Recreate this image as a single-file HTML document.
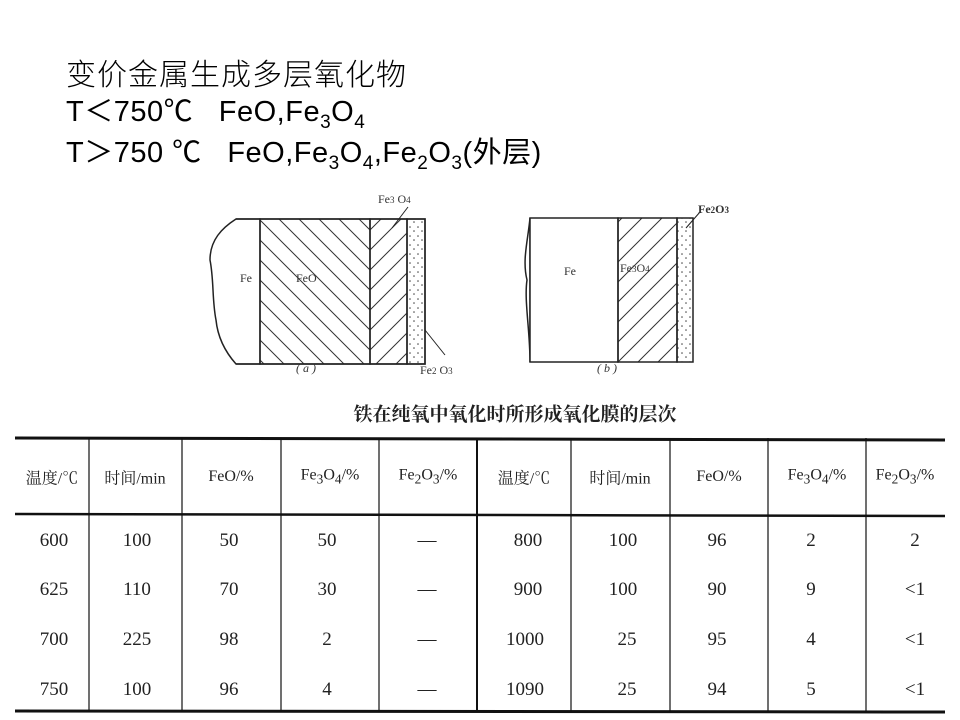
<!DOCTYPE html>
<html><head><meta charset="utf-8"><style>
body{margin:0;width:960px;height:720px;background:#fff;position:relative;overflow:hidden;font-family:"Liberation Sans","Noto Sans CJK SC",sans-serif}
.t{position:absolute;left:66px;font-size:29px;color:#000;white-space:nowrap;letter-spacing:0.5px}
.t sub{font-size:19px}
.c{position:absolute;font-family:"Liberation Serif","Noto Serif CJK SC",serif;font-size:19px;transform:translate(-50%,-50%);white-space:nowrap;color:#222}
</style></head><body>
<div class="t" style="top:50px;font-family:'Noto Sans CJK SC',sans-serif;font-size:30px;font-weight:300;letter-spacing:1px">变价金属生成多层氧化物</div>
<div class="t" style="top:88px">T＜750℃&nbsp;&nbsp; FeO,Fe<sub>3</sub>O<sub>4</sub></div>
<div class="t" style="top:129px">T＞750 ℃&nbsp;&nbsp; FeO,Fe<sub>3</sub>O<sub>4</sub>,Fe<sub>2</sub>O<sub>3</sub>(外层)</div>
<svg width="960" height="720" style="position:absolute;left:0;top:0" xmlns="http://www.w3.org/2000/svg">
<defs>
<pattern id="d1" width="20" height="20" patternUnits="userSpaceOnUse"><path d="M-5,-5 L25,25 M-5,15 L5,25 M15,-5 L25,5" stroke="#333" stroke-width="1"/></pattern>
<pattern id="d2" width="20" height="20" patternUnits="userSpaceOnUse"><path d="M-5,25 L25,-5 M-5,5 L5,-5 M15,25 L25,15" stroke="#333" stroke-width="1"/></pattern>
<pattern id="dots" width="8" height="9" patternUnits="userSpaceOnUse"><circle cx="2" cy="2" r="0.8" fill="#444"/><circle cx="6" cy="6" r="0.8" fill="#444"/></pattern>
</defs>
<g stroke="#222" stroke-width="1.5" fill="none">
<path d="M236,219 L260,219 L260,364 L236,364 C228,355 218,340 216,320 C212,300 214,280 210,260 C210,240 222,228 236,219Z"/>
<rect x="260" y="219" width="110" height="145" fill="url(#d1)"/>
<rect x="370" y="219" width="37" height="145" fill="url(#d2)"/>
<rect x="407" y="219" width="18" height="145" fill="url(#dots)"/>
<path d="M236,219 L425,219 L425,364 L236,364"/>
<line x1="392" y1="228" x2="408" y2="207" stroke-width="1"/>
<line x1="425" y1="330" x2="445" y2="355" stroke-width="1"/>
<path d="M530,218 L530,362 M530,218 C528,240 522,260 527,280 C524,300 530,330 530,362"/>
<rect x="530" y="218" width="88" height="144" fill="#fff"/>
<rect x="618" y="218" width="59" height="144" fill="url(#d2)"/>
<rect x="677" y="218" width="16" height="144" fill="url(#dots)"/>
<line x1="686" y1="228" x2="700" y2="212" stroke-width="1"/>
</g>
<g font-family="Liberation Serif,serif" font-size="12" fill="#333">
<text x="378" y="203">Fe<tspan font-size="9">3</tspan> O<tspan font-size="9">4</tspan></text>
<text x="240" y="282">Fe</text><text x="296" y="282">FeO</text>
<text x="420" y="374">Fe<tspan font-size="9">2</tspan> O<tspan font-size="9">3</tspan></text>
<text x="296" y="372" font-style="italic">( a )</text>
<text x="698" y="213" font-weight="bold">Fe<tspan font-size="9">2</tspan>O<tspan font-size="9">3</tspan></text>
<text x="564" y="275">Fe</text><text x="620" y="272">Fe<tspan font-size="9">3</tspan>O<tspan font-size="9">4</tspan></text>
<text x="597" y="372" font-style="italic">( b )</text>
</g>
<g stroke="#111">
<line x1="15" y1="438" x2="945" y2="440" stroke-width="3"/>
<line x1="15" y1="514" x2="945" y2="516" stroke-width="2.5"/>
<line x1="15" y1="711" x2="945" y2="712" stroke-width="3"/>
<g stroke-width="1.2">
<line x1="89" y1="438" x2="89" y2="712"/><line x1="182" y1="438" x2="182" y2="712"/>
<line x1="281" y1="438" x2="281" y2="712"/><line x1="379" y1="438" x2="379" y2="712"/>
<line x1="477" y1="438" x2="477" y2="712" stroke-width="2"/><line x1="571" y1="438" x2="571" y2="712"/>
<line x1="670" y1="438" x2="670" y2="712"/><line x1="768" y1="438" x2="768" y2="712"/>
<line x1="866" y1="438" x2="866" y2="712"/>
</g></g>
</svg>
<div class="c" style="left:515px;top:413px;font-family:'Noto Serif CJK SC',serif;font-weight:bold;font-size:19px">铁在纯氧中氧化时所形成氧化膜的层次</div>
<div class="c" style="left:52px;top:477px;font-size:16px">温度/℃</div>
<div class="c" style="left:135px;top:477px;font-size:16px">时间/min</div>
<div class="c" style="left:231px;top:477px;font-size:16px">FeO/%</div>
<div class="c" style="left:330px;top:477px;font-size:16px">Fe<sub>3</sub>O<sub>4</sub>/%</div>
<div class="c" style="left:428px;top:477px;font-size:16px">Fe<sub>2</sub>O<sub>3</sub>/%</div>
<div class="c" style="left:524px;top:477px;font-size:16px">温度/℃</div>
<div class="c" style="left:620px;top:477px;font-size:16px">时间/min</div>
<div class="c" style="left:719px;top:477px;font-size:16px">FeO/%</div>
<div class="c" style="left:817px;top:477px;font-size:16px">Fe<sub>3</sub>O<sub>4</sub>/%</div>
<div class="c" style="left:905px;top:477px;font-size:16px">Fe<sub>2</sub>O<sub>3</sub>/%</div>
<div class="c" style="left:54px;top:541px">600</div><div class="c" style="left:137px;top:541px">100</div><div class="c" style="left:229px;top:541px">50</div><div class="c" style="left:327px;top:541px">50</div><div class="c" style="left:427px;top:541px">—</div><div class="c" style="left:528px;top:541px">800</div><div class="c" style="left:623px;top:541px">100</div><div class="c" style="left:717px;top:541px">96</div><div class="c" style="left:811px;top:541px">2</div><div class="c" style="left:915px;top:541px">2</div>
<div class="c" style="left:54px;top:590px">625</div><div class="c" style="left:137px;top:590px">110</div><div class="c" style="left:229px;top:590px">70</div><div class="c" style="left:327px;top:590px">30</div><div class="c" style="left:427px;top:590px">—</div><div class="c" style="left:528px;top:590px">900</div><div class="c" style="left:623px;top:590px">100</div><div class="c" style="left:717px;top:590px">90</div><div class="c" style="left:811px;top:590px">9</div><div class="c" style="left:915px;top:590px">&lt;1</div>
<div class="c" style="left:54px;top:640px">700</div><div class="c" style="left:137px;top:640px">225</div><div class="c" style="left:229px;top:640px">98</div><div class="c" style="left:327px;top:640px">2</div><div class="c" style="left:427px;top:640px">—</div><div class="c" style="left:525px;top:640px">1000</div><div class="c" style="left:627px;top:640px">25</div><div class="c" style="left:717px;top:640px">95</div><div class="c" style="left:811px;top:640px">4</div><div class="c" style="left:915px;top:640px">&lt;1</div>
<div class="c" style="left:54px;top:690px">750</div><div class="c" style="left:137px;top:690px">100</div><div class="c" style="left:229px;top:690px">96</div><div class="c" style="left:327px;top:690px">4</div><div class="c" style="left:427px;top:690px">—</div><div class="c" style="left:525px;top:690px">1090</div><div class="c" style="left:627px;top:690px">25</div><div class="c" style="left:717px;top:690px">94</div><div class="c" style="left:811px;top:690px">5</div><div class="c" style="left:915px;top:690px">&lt;1</div>
</body></html>
